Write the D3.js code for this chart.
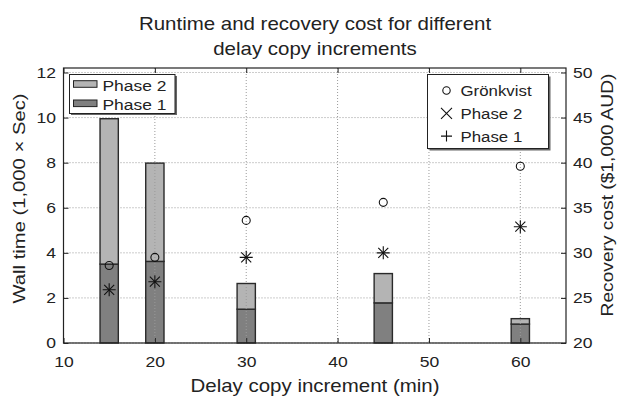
<!DOCTYPE html>
<html>
<head>
<meta charset="utf-8">
<script src="https://cdn.jsdelivr.net/npm/d3@7"></script>
<style>
  html, body { margin: 0; padding: 0; background: #fff; }
  svg { display: block; font-family: "Liberation Sans", Arial, Helvetica, sans-serif; }
</style>
</head>
<body>
<svg id="chart" width="619" height="400"></svg>
<script>
// Delay copy increments (minutes)
const increments = [15, 20, 30, 45, 60];
// Wall time (1,000 x sec), stacked bars
const wallPhase1 = [3.5, 3.62, 1.5, 1.78, 0.84];
const wallPhase2 = [6.45, 4.36, 1.14, 1.3, 0.24];
// Recovery cost ($1,000 AUD)
const costGronkvist = [28.6, 29.5, 33.6, 35.6, 39.6];
const costPhase2 = [25.9, 26.8, 29.5, 30.0, 32.9];
const costPhase1 = [25.9, 26.8, 29.5, 30.0, 32.9];

const xTicks = [10, 20, 30, 40, 50, 60];
const yLeftTicks = [0, 2, 4, 6, 8, 10, 12];
const yRightTicks = [20, 25, 30, 35, 40, 45, 50];

const svg = d3.select("#chart");
const plotL = 63.5, plotR = 566, plotT = 68, plotB = 343;

const x = d3.scaleLinear().domain([10, 65]).range([plotL, plotR]);
const yL = d3.scaleLinear().domain([0, 12.2]).range([plotB, plotT]);
const yR = d3.scaleLinear().domain([20, 50.5]).range([plotB, plotT]);

const textCol = "#222";
const gridCol = "#9a9a9a";
const wide = 1.17;   // horizontal stretch giving the broad Helvetica look

function label(parent, str, px, py, size, opts = {}) {
  const rot = opts.rotate ? ` rotate(${opts.rotate})` : "";
  const sc = opts.scale || wide;
  return parent.append("text")
    .attr("transform", `translate(${px},${py})${rot} scale(${sc},1)`)
    .attr("text-anchor", opts.anchor || "middle")
    .attr("fill", textCol).style("font-size", size + "px")
    .text(str);
}

// Horizontal grid (beneath the bars)
svg.append("g").selectAll("line").data(yLeftTicks).join("line")
  .attr("x1", plotL).attr("x2", plotR)
  .attr("y1", d => yL(d)).attr("y2", d => yL(d))
  .attr("stroke", gridCol).attr("stroke-width", 1)
  .attr("stroke-dasharray", "1,2");

// Stacked bars
const barW = x(12) - x(10);
const bars = svg.append("g");
bars.selectAll("rect.p1").data(increments).join("rect")
  .attr("class", "p1")
  .attr("x", d => x(d) - barW / 2)
  .attr("width", barW)
  .attr("y", (d, i) => yL(wallPhase1[i]))
  .attr("height", (d, i) => yL(0) - yL(wallPhase1[i]))
  .attr("fill", "#808080").attr("stroke", "#2a2a2a").attr("stroke-width", 1.4);
bars.selectAll("rect.p2").data(increments).join("rect")
  .attr("class", "p2")
  .attr("x", d => x(d) - barW / 2)
  .attr("width", barW)
  .attr("y", (d, i) => yL(wallPhase1[i] + wallPhase2[i]))
  .attr("height", (d, i) => yL(wallPhase1[i]) - yL(wallPhase1[i] + wallPhase2[i]))
  .attr("fill", "#b4b4b4").attr("stroke", "#2a2a2a").attr("stroke-width", 1.4);

// Vertical grid (drawn over the bars)
svg.append("g").selectAll("line").data(xTicks.filter(d => d > 10)).join("line")
  .attr("x1", d => x(d)).attr("x2", d => x(d))
  .attr("y1", plotT).attr("y2", plotB)
  .attr("stroke", gridCol).attr("stroke-width", 1)
  .attr("stroke-dasharray", "1,2");

// Plot box
svg.append("rect").attr("x", plotL).attr("y", plotT)
  .attr("width", plotR - plotL).attr("height", plotB - plotT)
  .attr("fill", "none").attr("stroke", "#222").attr("stroke-width", 1.2);

// Axes with inward ticks
const tickLen = 5;
const axB = svg.append("g").attr("transform", `translate(0,${plotB})`)
  .call(d3.axisBottom(x).tickValues(xTicks).tickSizeInner(-tickLen).tickSizeOuter(0).tickPadding(13));
const axT = svg.append("g").attr("transform", `translate(0,${plotT})`)
  .call(d3.axisTop(x).tickValues(xTicks).tickSizeInner(-tickLen).tickSizeOuter(0).tickFormat(""));
const axL = svg.append("g").attr("transform", `translate(${plotL},0)`)
  .call(d3.axisLeft(yL).tickValues(yLeftTicks).tickSizeInner(-tickLen).tickSizeOuter(0));
const axR = svg.append("g").attr("transform", `translate(${plotR},0)`)
  .call(d3.axisRight(yR).tickValues(yRightTicks).tickSizeInner(-tickLen).tickSizeOuter(0));
[axB, axT, axL, axR].forEach(g => {
  g.select(".domain").remove();
  g.selectAll("line").attr("stroke", "#222");
  g.selectAll("text").attr("fill", textCol).style("font-size", "15px")
    .attr("transform", `scale(${wide},1)`);
});
axL.selectAll("text").attr("x", -7.5 / wide);
axR.selectAll("text").attr("x", 7 / wide);

// Recovery cost markers
const markers = svg.append("g").attr("fill", "none").attr("stroke", "#111").attr("stroke-width", 1.1);
markers.selectAll("circle").data(increments).join("circle")
  .attr("cx", d => x(d)).attr("cy", (d, i) => yR(costGronkvist[i])).attr("r", 4);
const s = 6.5, sx = 5;
markers.selectAll("path.cross").data(increments).join("path")
  .attr("class", "cross")
  .attr("d", (d, i) => {
    const cx = x(d), cy = yR(costPhase2[i]);
    return `M${cx - sx},${cy - sx}L${cx + sx},${cy + sx}M${cx - sx},${cy + sx}L${cx + sx},${cy - sx}`;
  });
markers.selectAll("path.plus").data(increments).join("path")
  .attr("class", "plus")
  .attr("d", (d, i) => {
    const cx = x(d), cy = yR(costPhase1[i]);
    return `M${cx - s},${cy}L${cx + s},${cy}M${cx},${cy - s}L${cx},${cy + s}`;
  });

// Title and axis labels
label(svg, "Runtime and recovery cost for different", 315, 30, 17.5);
label(svg, "delay copy increments", 315, 55, 17.5);
label(svg, "Delay copy increment (min)", 315, 392, 17.5);
label(svg, "Wall time (1,000 × Sec)", 25, 198.5, 17.3, { rotate: -90 });
label(svg, "Recovery cost ($1,000 AUD)", 613, 195, 16.4, { rotate: -90 });

// Legend for the bars
const lg1 = svg.append("g");
lg1.append("rect").attr("x", 71).attr("y", 76).attr("width", 106).attr("height", 39).attr("fill", "#666");
lg1.append("rect").attr("x", 69.5).attr("y", 74.5).attr("width", 105.5).attr("height", 39)
  .attr("fill", "#fff").attr("stroke", "#222").attr("stroke-width", 1);
const barLegend = [["Phase 2", "#b4b4b4"], ["Phase 1", "#808080"]];
barLegend.forEach(([name, col], i) => {
  const cy = 84 + i * 19.3;
  lg1.append("rect").attr("x", 73.5).attr("y", cy - 3.3).attr("width", 23.5).attr("height", 6.6)
    .attr("fill", col).attr("stroke", "#222").attr("stroke-width", 1);
  label(lg1, name, 102.5, cy + 6.7, 15.3, { anchor: "start", scale: 1.14 });
});

// Legend for the cost markers
const lg2 = svg.append("g");
lg2.append("rect").attr("x", 429.5).attr("y", 76.5).attr("width", 121).attr("height", 74).attr("fill", "#666");
lg2.append("rect").attr("x", 427.5).attr("y", 74.5).attr("width", 121).attr("height", 74)
  .attr("fill", "#fff").attr("stroke", "#222").attr("stroke-width", 1);
const markLegend = ["Grönkvist", "Phase 2", "Phase 1"];
markLegend.forEach((name, i) => {
  const cy = 90.5 + i * 22.8, cx = 446.5, m = 5.5;
  const g = lg2.append("g").attr("fill", "none").attr("stroke", "#111").attr("stroke-width", 1.1);
  if (i === 0) g.append("circle").attr("cx", cx).attr("cy", cy).attr("r", 3.7);
  if (i === 1) g.append("path").attr("d", `M${cx - m},${cy - m}L${cx + m},${cy + m}M${cx - m},${cy + m}L${cx + m},${cy - m}`);
  if (i === 2) g.append("path").attr("d", `M${cx - m},${cy}L${cx + m},${cy}M${cx},${cy - m}L${cx},${cy + m}`);
  label(lg2, name, 460.5, cy + 5.5, 15.3, { anchor: "start", scale: 1.1 });
});
</script>
</body>
</html>
